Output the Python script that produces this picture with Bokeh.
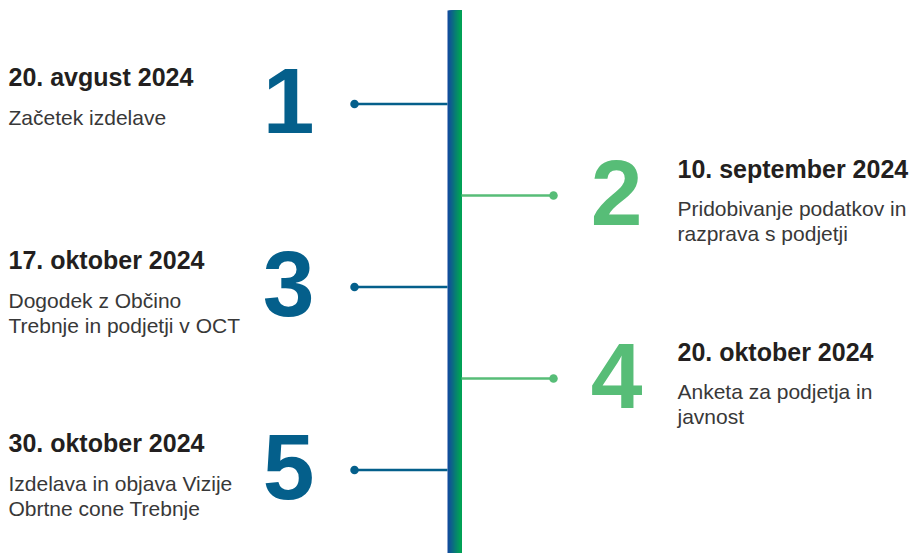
from bokeh.plotting import figure
from bokeh.models import Range1d
from bokeh.embed import file_html
from bokeh.resources import INLINE
from bokeh.core.properties import value

# ---- data ----
numbers = ["1", "2", "3", "4", "5"]
dates = ["20. avgust 2024", "10. september 2024", "17. oktober 2024",
         "20. oktober 2024", "30. oktober 2024"]
descriptions = [
    "Začetek izdelave",
    "Pridobivanje podatkov in\nrazprava s podjetji",
    "Dogodek z Občino\nTrebnje in podjetji v OCT",
    "Anketa za podjetja in\njavnost",
    "Izdelava in objava Vizije\nObrtne cone Trebnje",
]

# ---- style / layout ----
BLUE = "#045f8b"
GREEN = "#57bd77"
TITLE_C = "#231f20"
DESC_C = "#383838"
FONT = "Liberation Sans"

W, H = 924, 553
p = figure(width=W, height=H, output_backend="svg", toolbar_location=None,
           x_range=Range1d(0, W), y_range=Range1d(H, 0),
           min_border=0, outline_line_color=None)
p.axis.visible = False
p.grid.visible = False
p.background_fill_color = "white"
p.border_fill_color = "white"

first_y, step = 103.5, 91.5
bar_l, bar_r = 447, 461
dot_left, dot_right = 354, 553
num_left, num_right = 288, 616
text_left, text_right = 8, 677

n = len(numbers)
left = [i % 2 == 0 for i in range(n)]
conn_y = [first_y + i * step for i in range(n)]
colors = [BLUE if l else GREEN for l in left]

# gradient bar (blue -> green, left to right), stacked strips without seams
c0 = (0x12, 0x4a, 0x9e)
c1 = (0x00, 0xa6, 0x52)
nseg = bar_r - bar_l
for k in range(nseg):
    t = k / (nseg - 1)
    c = tuple(int(round(c0[j] + (c1[j] - c0[j]) * t)) for j in range(3))
    col = "#%02x%02x%02x" % c
    p.quad(left=bar_l + k, right=bar_r, top=10, bottom=H + 10,
           fill_color=col, line_color=None)

# connectors
xs0 = [dot_left if l else bar_r for l in left]
xs1 = [bar_l if l else dot_right for l in left]
p.segment(x0=xs0, y0=conn_y, x1=xs1, y1=conn_y, line_color=colors, line_width=2.6)
p.scatter(x=[dot_left if l else dot_right for l in left], y=conn_y,
          size=8.5, fill_color=colors, line_color=None)

# big numbers
p.text(x=[num_left if l else num_right for l in left],
       y=[cy - 3 for cy in conn_y], text=numbers,
       text_color=colors, text_font=value(FONT), text_font_style="bold",
       text_font_size="93px", text_align="center", text_baseline="middle")

# titles
p.text(x=[text_left if l else text_right for l in left],
       y=[cy - 27 for cy in conn_y], text=dates,
       text_color=TITLE_C, text_font=value(FONT), text_font_style="bold",
       text_font_size="25px", text_align="left", text_baseline="middle")

# descriptions (one glyph row per line)
dx, dy, dt = [], [], []
for i, d in enumerate(descriptions):
    for j, line in enumerate(d.split("\n")):
        dx.append(text_left if left[i] else text_right)
        dy.append(conn_y[i] + 13 + j * 25)
        dt.append(line)
p.text(x=dx, y=dy, text=dt, text_color=DESC_C, text_font=value(FONT),
       text_font_size="21px", text_align="left", text_baseline="middle")

open("out.html", "w").write(file_html(p, INLINE))
